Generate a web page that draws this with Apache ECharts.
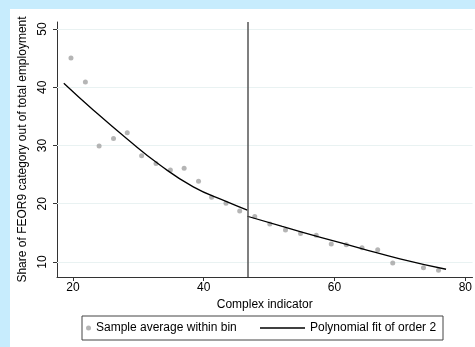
<!DOCTYPE html>
<html>
<head>
<meta charset="utf-8">
<script src="https://cdn.jsdelivr.net/npm/echarts@6/dist/echarts.min.js"></script>
<style>
  html, body { margin: 0; padding: 0; background: #c7ecfd; }
  #chart { width: 475px; height: 347px; }
</style>
</head>
<body>
<div id="chart"></div>
<script>
// bin averages
const binX = [19.7, 21.9, 24.0, 26.2, 28.3, 30.5, 32.7, 34.9, 37.0, 39.2, 41.2, 43.4, 45.5,
  47.8, 50.1, 52.5, 54.8, 57.2, 59.5, 61.8, 64.2, 66.6, 68.9, 73.6, 75.9];
const binY = [45.0, 40.9, 29.9, 31.2, 32.2, 28.25, 26.9, 25.8, 26.1, 23.85, 21.1, 20.08, 18.75,
  17.8, 16.5, 15.5, 14.9, 14.6, 13.1, 12.97, 12.45, 12.1, 9.83, 9.02, 8.57];

// fitted curve, left and right of the cutoff
const fitLeftX = [18.6, 23.1, 28.2, 33.3, 38.4, 43.5, 46.67];
const fitLeftY = [40.7, 36.1, 31.2, 26.65, 22.9, 20.35, 18.9];
const fitRightX = [46.67, 52, 58, 64, 70, 77.05];
const fitRightY = [17.85, 16.1, 14.2, 12.35, 10.55, 8.75];

const cutoff = 46.67;
const xTicks = [20, 40, 60, 80];
const yTicks = [10, 20, 30, 40, 50];

const font = 'Liberation Sans, Arial, sans-serif';
const zip = (xs, ys) => xs.map((x, i) => [x, ys[i]]);

const chart = echarts.init(document.getElementById('chart'), null, { renderer: 'canvas' });

chart.setOption({
  backgroundColor: '#c7ecfd',
  animation: false,
  textStyle: { fontFamily: font },
  graphic: [
    { type: 'rect', z: -100, shape: { x: 10, y: 9, width: 465, height: 338 }, style: { fill: '#ffffff' } },
    { type: 'rect', z: 10, shape: { x: 82, y: 316, width: 361, height: 24 },
      style: { fill: 'none', stroke: '#444', lineWidth: 1 } }
  ],
  grid: { left: 57, top: 22, right: 2, bottom: 70, containLabel: false },
  legend: [
    {
      data: [{ name: 'Sample average within bin', icon: 'circle' }],
      left: 86, top: 322, padding: 0, itemWidth: 5, itemHeight: 5,
      textStyle: { fontSize: 12, color: '#000', fontFamily: font }
    },
    {
      data: [{ name: 'Polynomial fit of order 2', icon: 'rect' }],
      left: 260, top: 322, padding: 0, itemWidth: 45, itemHeight: 1.3,
      textStyle: { fontSize: 12, color: '#000', fontFamily: font }
    }
  ],
  xAxis: {
    type: 'value', min: 17.56, max: 81.1,
    name: 'Complex indicator', nameLocation: 'middle', nameGap: 20,
    nameTextStyle: { fontSize: 12, color: '#000' },
    axisLine: { lineStyle: { color: '#333', width: 1 } },
    axisTick: { show: true, length: 4, customValues: xTicks, lineStyle: { color: '#333' } },
    axisLabel: { customValues: xTicks, color: '#000', fontSize: 12, margin: 5 },
    splitLine: { show: false }
  },
  yAxis: {
    type: 'value', min: 7.42, max: 51.2,
    name: 'Share of FEOR9 category out of total employment', nameLocation: 'middle', nameGap: 24,
    nameTextStyle: { fontSize: 12, color: '#000' },
    axisLine: { show: true, lineStyle: { color: '#333', width: 1 } },
    axisTick: { show: true, length: 4, customValues: yTicks, lineStyle: { color: '#333' } },
    axisLabel: { customValues: yTicks, color: '#000', fontSize: 12, rotate: 90, margin: 8 },
    splitLine: { show: false }
  },
  series: [
    {
      name: 'Sample average within bin', type: 'scatter',
      data: zip(binX, binY), symbolSize: 5,
      itemStyle: { color: '#a3a3a3' }, z: 3,
      markLine: {
        silent: true, symbol: 'none', animation: false, z: 1,
        label: { show: false },
        lineStyle: { color: '#e9f2f2', width: 1, type: 'solid' },
        data: yTicks.map(v => ({ yAxis: v }))
      }
    },
    {
      name: 'Polynomial fit of order 2', type: 'line',
      data: zip(fitLeftX, fitLeftY), smooth: true, showSymbol: false,
      lineStyle: { color: '#000', width: 1.3 }, itemStyle: { color: '#000' }, z: 4,
      markLine: {
        silent: true, symbol: 'none', animation: false,
        label: { show: false },
        lineStyle: { color: '#555', width: 1.5, type: 'solid' },
        data: [{ xAxis: cutoff }]
      }
    },
    {
      name: 'Polynomial fit of order 2', type: 'line',
      data: zip(fitRightX, fitRightY), smooth: true, showSymbol: false,
      lineStyle: { color: '#000', width: 1.3 }, itemStyle: { color: '#000' }, z: 4
    }
  ]
});
</script>
</body>
</html>
